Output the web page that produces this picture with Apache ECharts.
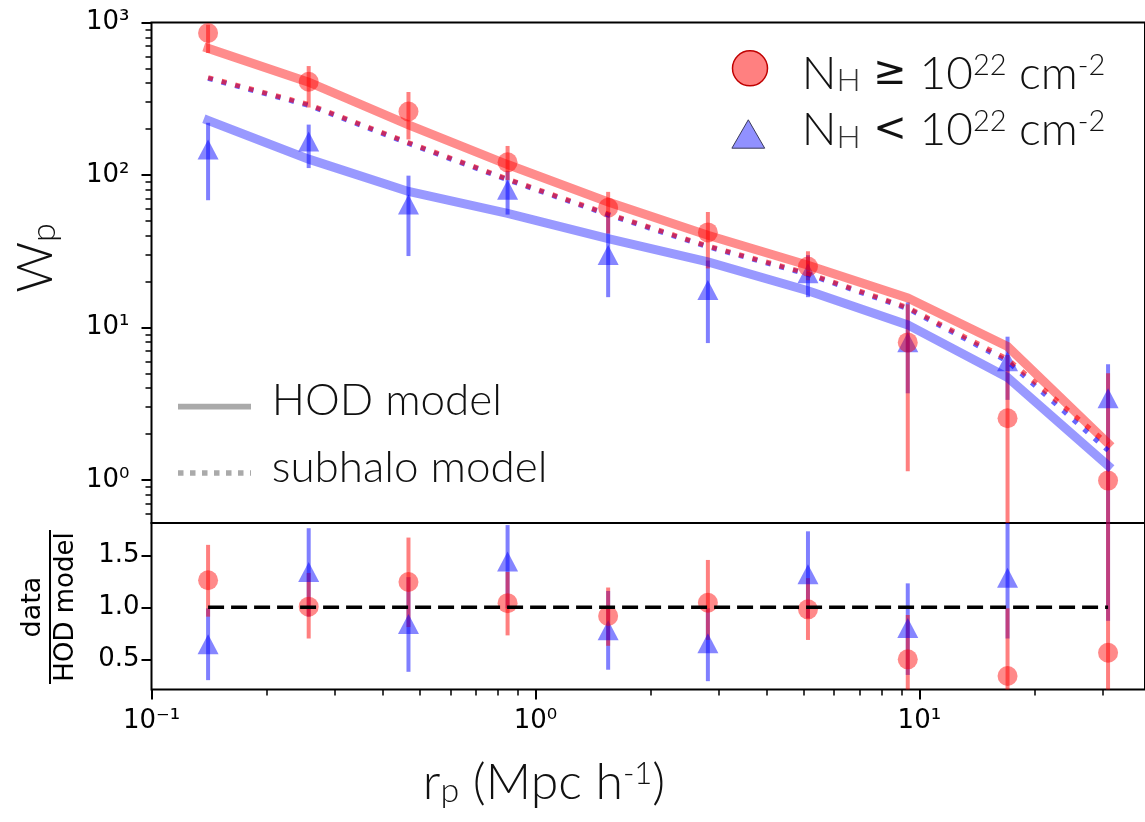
<!DOCTYPE html>
<html>
<head>
<meta charset="utf-8">
<script src="https://cdn.jsdelivr.net/npm/echarts@6/dist/echarts.min.js"></script>
<style>
  html, body { margin: 0; padding: 0; background: #ffffff; }
  #chart { width: 1145px; height: 822px; }
</style>
</head>
<body>
<div id="chart"></div>
<script>
// Projected separation bins (Mpc/h)
const rp = [0.1404, 0.2567, 0.467, 0.8462, 1.5467, 2.813, 5.127, 9.328, 16.97, 31.01];

// w_p for the obscured sample (N_H >= 1e22) with error bar ends
const wpHigh   = [853, 409, 261, 121, 61, 42, 25.1, 7.98, 2.54, 0.99];
const wpHighLo = [631, 277, 171, 92.6, 41.3, 24.4, 20.4, 1.14, null, null];
const wpHighHi = [966, 518, 350, 155, 77.5, 57.2, 31.6, 14.2, 6.6, 5.0];

// w_p for the unobscured sample (N_H < 1e22)
const wpLow   = [147, 166, 64, 80, 29.9, 17.6, 22.7, 8.0, 6.0, 3.44];
const wpLowLo = [68.3, 111, 29.4, 55, 15.8, 7.9, 15.8, 3.7, 3.35, null];
const wpLowHi = [220, 214, 99, 106, 55.9, 27.5, 29.8, 14.6, 8.7, 5.73];

// Model curves
const hodHigh = [677, 406, 213, 117, 66.5, 40.2, 25.6, 15.6, 7.5, 1.74];
const hodLow  = [228, 127, 78, 56, 38.3, 26.9, 17.4, 10.4, 4.7, 1.24];
const subHigh = [435, 290, 163, 94, 55.5, 34.2, 22.6, 13.5, 6.2, 1.72];
const subLow  = [430, 286, 161, 93, 54.8, 33.8, 22.3, 13.3, 6.0, 1.56];

// data / HOD model ratios with error bar ends
const ratioHigh   = [1.26, 1.006, 1.243, 1.04, 0.916, 1.044, 0.98, 0.50, 0.34, 0.563];
const ratioHighLo = [0.91, 0.70, 0.81, 0.73, 0.63, 0.686, 0.686, null, null, null];
const ratioHighHi = [1.60, 1.33, 1.67, 1.34, 1.19, 1.455, 1.28, 0.926, 0.99, null];
const ratioLow    = [0.645, 1.34, 0.84, 1.44, 0.78, 0.654, 1.317, 0.80, 1.285, 2.8];
const ratioLowLo  = [0.30, 0.91, 0.38, 0.99, 0.40, 0.29, 0.894, 0.35, 0.70, 0.87];
const ratioLowHi  = [0.99, 1.76, 1.29, 1.79, 1.157, 0.99, 1.73, 1.23, null, null];

// Axis ranges and ticks
const xRange = [0.1, 38.7];
const wpRange = [0.522, 1000];
const ratioRange = [0.21, 1.81];
const xMajor = [0.1, 1, 10];
const xMinor = [0.2, 0.3, 0.4, 0.5, 0.6, 0.7, 0.8, 0.9, 2, 3, 4, 5, 6, 7, 8, 9, 20, 30];
const wpMajor = [1, 10, 100, 1000];
const wpMinor = [0.6, 0.7, 0.8, 0.9, 2, 3, 4, 5, 6, 7, 8, 9, 20, 30, 40, 50, 60, 70, 80, 90,
                 200, 300, 400, 500, 600, 700, 800, 900];
const ratioTicks = [0.5, 1.0, 1.5];

// Legend labels
const labelHigh = '{n|N}{sb|H}{m| \u2265 }{n|10}{sp|22}{n| cm}{sp|-2}';
const labelLow  = '{n|N}{sb|H}{m| < }{n|10}{sp|22}{n| cm}{sp|-2}';
const labelHod = 'HOD model';
const labelSub = 'subhalo model';

const RED = 'rgba(255,0,0,0.5)';
const BLUE = 'rgba(0,0,255,0.5)';
const RED_MK = 'rgba(255,0,0,0.58)';
const BLUE_MK = 'rgba(0,0,255,0.6)';
const LIGHT = 'Lato, Roboto, sans-serif';
const TICKFONT = 'DejaVu Sans';

const pairs = (xs, ys) => xs.map((x, i) => [x, ys[i]]);

// 10^n written with superscript digits
const SUP = { '-': '\u207B', '0': '\u2070', '1': '\u00B9', '2': '\u00B2', '3': '\u00B3',
              '4': '\u2074', '5': '\u2075', '6': '\u2076', '7': '\u2077', '8': '\u2078', '9': '\u2079' };
function powLabel(v) {
  const e = String(Math.round(Math.log10(v)));
  return '10' + e.split('').map(c => SUP[c]).join('');
}

// Vertical error bars clipped to the plotting area
function errorBars(name, lo, hi, center, color, xi, yi) {
  return {
    type: 'custom', name: name, xAxisIndex: xi, yAxisIndex: yi, silent: true,
    data: pairs(rp, center),
    renderItem: function (params, api) {
      const i = params.dataIndex;
      const cs = params.coordSys;
      const x = api.coord([rp[i], center[i]])[0];
      let yTop = hi[i] == null ? cs.y : api.coord([rp[i], hi[i]])[1];
      let yBot = lo[i] == null ? cs.y + cs.height : api.coord([rp[i], lo[i]])[1];
      yTop = Math.max(cs.y, yTop);
      yBot = Math.min(cs.y + cs.height, yBot);
      if (yBot <= yTop) return null;
      return { type: 'line', shape: { x1: x, y1: yTop, x2: x, y2: yBot },
               style: { stroke: color, lineWidth: 4 } };
    }
  };
}

const richLegend = {
  n:  { fontFamily: LIGHT, fontWeight: 300, fontSize: 46, fill: '#111', lineHeight: 46 },
  m:  { fontFamily: TICKFONT, fontSize: 40, fill: '#111', lineHeight: 46 },
  sb: { fontFamily: LIGHT, fontWeight: 300, fontSize: 32, fill: '#333', verticalAlign: 'bottom', lineHeight: 14 },
  sp: { fontFamily: LIGHT, fontWeight: 300, fontSize: 29, fill: '#111', verticalAlign: 'top', lineHeight: 32 }
};

const chart = echarts.init(document.getElementById('chart'), null, { renderer: 'canvas' });

const option = {
  animation: false,
  backgroundColor: '#ffffff',
  grid: [
    { left: 151.5, top: 22.5, width: 995.5, height: 500.5, show: true,
      borderColor: '#000', borderWidth: 2, backgroundColor: 'transparent' },
    { left: 151.5, top: 523, width: 995.5, height: 166.5, show: true,
      borderColor: '#000', borderWidth: 2, backgroundColor: 'transparent' }
  ],
  xAxis: [
    { type: 'log', gridIndex: 0, position: 'bottom', min: xRange[0], max: xRange[1],
      axisLine: { show: false }, axisTick: { show: false }, axisLabel: { show: false },
      splitLine: { show: false } },
    { type: 'log', gridIndex: 1, position: 'bottom', min: xRange[0], max: xRange[1],
      axisLine: { show: false }, splitLine: { show: false },
      axisTick: { customValues: xMajor, length: 10, lineStyle: { color: '#000', width: 2 } },
      axisLabel: { customValues: xMajor, margin: 19, fontFamily: TICKFONT, fontSize: 26, color: '#000',
                   formatter: powLabel } },
    { type: 'log', gridIndex: 1, position: 'bottom', min: xRange[0], max: xRange[1],
      axisLine: { show: false }, splitLine: { show: false }, axisLabel: { show: false },
      axisTick: { customValues: xMinor, length: 6, lineStyle: { color: '#000', width: 1.5 } } }
  ],
  yAxis: [
    { type: 'log', gridIndex: 0, position: 'left', min: wpRange[0], max: wpRange[1],
      axisLine: { show: false }, splitLine: { show: false },
      axisTick: { customValues: wpMajor, length: 10, lineStyle: { color: '#000', width: 2 } },
      axisLabel: { customValues: wpMajor, margin: 22, fontFamily: TICKFONT, fontSize: 26, color: '#000',
                   formatter: powLabel } },
    { type: 'log', gridIndex: 0, position: 'left', min: wpRange[0], max: wpRange[1],
      axisLine: { show: false }, splitLine: { show: false }, axisLabel: { show: false },
      axisTick: { customValues: wpMinor, length: 6, lineStyle: { color: '#000', width: 1.5 } } },
    { type: 'value', gridIndex: 1, position: 'left', min: ratioRange[0], max: ratioRange[1],
      axisLine: { show: false }, splitLine: { show: false },
      axisTick: { customValues: ratioTicks, length: 10, lineStyle: { color: '#000', width: 2 } },
      axisLabel: { customValues: ratioTicks, margin: 12, color: '#000',
                   fontFamily: TICKFONT, fontSize: 26, formatter: v => v.toFixed(1) } }
  ],
  graphic: [
    // axis titles
    { type: 'text', x: 36, y: 258, rotation: Math.PI / 2, silent: true,
      style: { text: '{w|W}{p|p}', align: 'center', verticalAlign: 'middle',
               rich: { w: { fontFamily: LIGHT, fontWeight: 300, fontSize: 50, fill: '#111', lineHeight: 50 },
                       p: { fontFamily: LIGHT, fontWeight: 300, fontSize: 34, fill: '#111',
                            verticalAlign: 'bottom', lineHeight: 18 } } } },
    { type: 'text', x: 544, y: 783, silent: true,
      style: { text: '{t|r}{sb|p}{t| (Mpc h}{sp|-1}{t|)}', align: 'center', verticalAlign: 'middle',
               rich: { t: { fontFamily: LIGHT, fontWeight: 300, fontSize: 50, fill: '#111', lineHeight: 50 },
                       sb: { fontFamily: LIGHT, fontWeight: 300, fontSize: 34, fill: '#111',
                             verticalAlign: 'bottom', lineHeight: 14 },
                       sp: { fontFamily: LIGHT, fontWeight: 300, fontSize: 31, fill: '#111',
                             verticalAlign: 'top', lineHeight: 35 } } } },
    { type: 'group', x: 50, y: 607, rotation: Math.PI / 2, silent: true,
      children: [
        { type: 'text', x: 0, y: -4,
          style: { text: 'data', font: '27px "DejaVu Sans"', fill: '#000', align: 'center', verticalAlign: 'bottom' } },
        { type: 'line', shape: { x1: -77, y1: 0, x2: 77, y2: 0 }, style: { stroke: '#000', lineWidth: 2 } },
        { type: 'text', x: 0, y: 3,
          style: { text: 'HOD model', font: '26px "DejaVu Sans"', fill: '#000', align: 'center', verticalAlign: 'top' } }
      ] },

    // key for the two samples
    { type: 'circle', silent: true, shape: { cx: 750, cy: 68.3, r: 17.5 },
      style: { fill: 'rgb(255,128,128)', stroke: '#c00000', lineWidth: 1.5 } },
    { type: 'text', x: 801.7, y: 73.9, silent: true,
      style: { text: labelHigh, align: 'left', verticalAlign: 'middle', rich: richLegend } },
    { type: 'polygon', silent: true,
      shape: { points: [[748.3, 119.8], [731.9, 148.2], [764.7, 148.2]] },
      style: { fill: 'rgb(145,145,255)', stroke: '#3a3a5a', lineWidth: 1 } },
    { type: 'text', x: 801.7, y: 130.5, silent: true,
      style: { text: labelLow, align: 'left', verticalAlign: 'middle', rich: richLegend } },

    // key for the model line styles
    { type: 'line', silent: true, shape: { x1: 178, y1: 406.7, x2: 251, y2: 406.7 },
      style: { stroke: '#aaaaaa', lineWidth: 5.7 } },
    { type: 'text', x: 271.7, y: 401, silent: true,
      style: { text: labelHod, fontFamily: LIGHT, fontWeight: 300, fontSize: 44, fill: '#111',
               align: 'left', verticalAlign: 'middle' } },
    { type: 'line', silent: true, shape: { x1: 178, y1: 473, x2: 251, y2: 473 },
      style: { stroke: '#aaaaaa', lineWidth: 5.7, lineDash: [5.5, 6.5] } },
    { type: 'text', x: 271.7, y: 467.5, silent: true,
      style: { text: labelSub, fontFamily: LIGHT, fontWeight: 300, fontSize: 44, fill: '#111',
               align: 'left', verticalAlign: 'middle' } }
  ],
  series: [
    // HOD model curves
    { type: 'line', name: 'HOD model (N_H < 1e22)', xAxisIndex: 0, yAxisIndex: 0, data: pairs(rp, hodLow),
      symbol: 'none', silent: true, lineStyle: { color: 'rgba(0,0,255,0.4)', width: 9, cap: 'square', join: 'miter' } },
    { type: 'line', name: 'HOD model (N_H >= 1e22)', xAxisIndex: 0, yAxisIndex: 0, data: pairs(rp, hodHigh),
      symbol: 'none', silent: true, lineStyle: { color: 'rgba(255,0,0,0.45)', width: 9, cap: 'square', join: 'miter' } },
    // subhalo model curves
    { type: 'line', name: 'subhalo model (N_H < 1e22)', xAxisIndex: 0, yAxisIndex: 0, data: pairs(rp, subLow),
      symbol: 'none', silent: true, lineStyle: { color: 'rgba(0,0,255,0.6)', width: 5, type: [5, 9], cap: 'butt' } },
    { type: 'line', name: 'subhalo model (N_H >= 1e22)', xAxisIndex: 0, yAxisIndex: 0, data: pairs(rp, subHigh),
      symbol: 'none', silent: true, lineStyle: { color: 'rgba(255,0,0,0.6)', width: 5, type: [5, 9], cap: 'butt' } },

    // w_p measurements
    errorBars('wp-low-err', wpLowLo, wpLowHi, wpLow, BLUE, 0, 0),
    errorBars('wp-high-err', wpHighLo, wpHighHi, wpHigh, RED, 0, 0),
    { type: 'scatter', name: 'N_H < 1e22', xAxisIndex: 0, yAxisIndex: 0, data: pairs(rp, wpLow),
      symbol: 'triangle', symbolSize: [21, 20], itemStyle: { color: BLUE_MK } },
    { type: 'scatter', name: 'N_H >= 1e22', xAxisIndex: 0, yAxisIndex: 0, data: pairs(rp, wpHigh),
      symbol: 'circle', symbolSize: 20, itemStyle: { color: RED_MK } },

    // ratio panel
    { type: 'line', name: 'unity', xAxisIndex: 1, yAxisIndex: 2,
      data: [[rp[0], 1], [rp[rp.length - 1], 1]], symbol: 'none', silent: true, z: 3,
      lineStyle: { color: '#000', width: 3.5, type: [16, 7], cap: 'butt' } },
    errorBars('ratio-low-err', ratioLowLo, ratioLowHi, ratioLow, BLUE, 1, 2),
    errorBars('ratio-high-err', ratioHighLo, ratioHighHi, ratioHigh, RED, 1, 2),
    { type: 'scatter', name: 'ratio N_H < 1e22', xAxisIndex: 1, yAxisIndex: 2, data: pairs(rp, ratioLow),
      symbol: 'triangle', symbolSize: [21, 20], clip: true, itemStyle: { color: BLUE_MK } },
    { type: 'scatter', name: 'ratio N_H >= 1e22', xAxisIndex: 1, yAxisIndex: 2, data: pairs(rp, ratioHigh),
      symbol: 'circle', symbolSize: 20, clip: true, itemStyle: { color: RED_MK } }
  ]
};

chart.setOption(option);
</script>
</body>
</html>
